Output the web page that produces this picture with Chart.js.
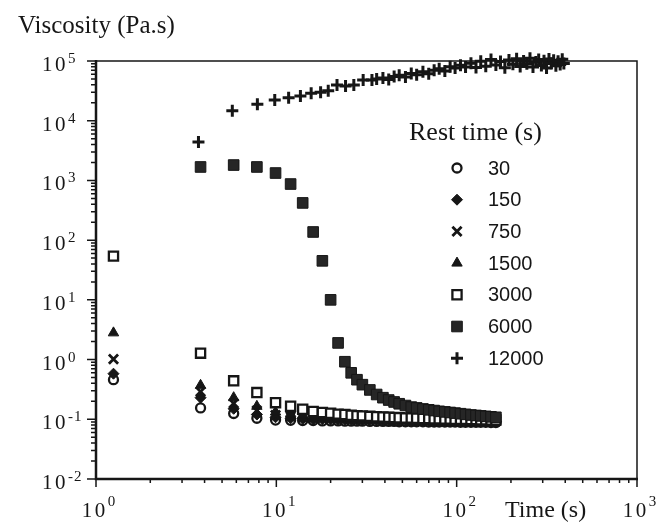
<!DOCTYPE html>
<html>
<head>
<meta charset="utf-8">
<title>Viscosity vs time</title>
<script src="https://cdn.jsdelivr.net/npm/chart.js@4.4.1/dist/chart.umd.min.js"></script>
<style>
  html, body { margin: 0; padding: 0; background: #fff; }
  #chart { display: block; }
</style>
</head>
<body>
<canvas id="chart" width="659" height="523"></canvas>
<script>
// time (s) shared by rest times 30 ... 6000
const times = [1.25, 3.8, 5.8, 7.8, 9.9, 12, 14, 16, 18, 20, 22, 24, 26, 28, 30, 33, 36, 39, 42, 45,
    48, 52, 56, 60, 65, 70, 75, 80, 86, 92, 98, 105, 112, 120, 128, 136, 145, 155, 165];

// viscosity (Pa.s) per rest time
const rest30 = [0.46, 0.155, 0.125, 0.104, 0.097, 0.096, 0.095, 0.095, 0.094, 0.094, 0.094, 0.093, 0.093, 0.093, 0.093, 0.092, 0.092, 0.092, 0.092, 0.092,
    0.091, 0.091, 0.091, 0.091, 0.091, 0.09, 0.09, 0.09, 0.09, 0.09, 0.09, 0.089, 0.089, 0.089, 0.089, 0.089, 0.089, 0.088, 0.088];
const rest150 = [0.58, 0.23, 0.15, 0.12, 0.108, 0.104, 0.102, 0.1, 0.1, 0.099, 0.098, 0.098, 0.097, 0.097, 0.097, 0.096, 0.096, 0.096, 0.095, 0.095,
    0.095, 0.095, 0.094, 0.094, 0.094, 0.094, 0.093, 0.093, 0.093, 0.093, 0.093, 0.092, 0.092, 0.092, 0.092, 0.092, 0.091, 0.091, 0.091];
const rest750 = [1.02, 0.29, 0.185, 0.14, 0.118, 0.112, 0.108, 0.106, 0.104, 0.103, 0.102, 0.101, 0.101, 0.1, 0.1, 0.099, 0.099, 0.099, 0.098, 0.098,
    0.098, 0.097, 0.097, 0.097, 0.097, 0.096, 0.096, 0.096, 0.096, 0.095, 0.095, 0.095, 0.095, 0.094, 0.094, 0.094, 0.094, 0.093, 0.093];
const rest1500 = [2.8, 0.37, 0.23, 0.165, 0.132, 0.124, 0.118, 0.114, 0.11, 0.108, 0.107, 0.106, 0.105, 0.105, 0.104, 0.103, 0.103, 0.102, 0.102, 0.101,
    0.101, 0.1, 0.1, 0.1, 0.099, 0.099, 0.099, 0.098, 0.098, 0.098, 0.097, 0.097, 0.097, 0.096, 0.096, 0.096, 0.095, 0.095, 0.095];
const rest3000 = [54, 1.28, 0.44, 0.28, 0.19, 0.165, 0.147, 0.135, 0.13, 0.126, 0.122, 0.12, 0.117, 0.115, 0.114, 0.112, 0.11, 0.109, 0.108, 0.107,
    0.106, 0.105, 0.105, 0.104, 0.103, 0.103, 0.102, 0.102, 0.101, 0.101, 0.1, 0.1, 0.1, 0.099, 0.099, 0.098, 0.098, 0.097, 0.097];
const rest6000 = [null, 1680, 1810, 1680, 1330, 870, 420, 137, 45, 10, 1.9, 0.92, 0.6, 0.46, 0.38, 0.31, 0.26, 0.23, 0.21, 0.195,
    0.182, 0.17, 0.16, 0.155, 0.149, 0.144, 0.14, 0.136, 0.133, 0.13, 0.127, 0.124, 0.121, 0.118, 0.116, 0.114, 0.112, 0.11, 0.108];

// the 12000 s run was measured for longer
const times12000 = [3.7, 5.7, 7.85, 9.8, 11.7, 13.6, 15.6, 17.6, 19.4, 21.7, 24.2, 26.9, 30.3, 33.9, 36, 39, 42, 45, 48, 52,
    56, 60, 65, 70, 75, 80, 86, 92, 98, 105, 112, 120, 128, 136, 145, 155, 165, 175, 185, 195,
    205, 215, 225, 235, 245, 255, 265, 275, 285, 295, 305, 315, 325, 335, 345, 355, 365, 375, 385, 393];
const rest12000 = [4400, 14700, 18800, 22200, 24300, 26000, 28800, 29900, 31800, 39600, 38000, 39800, 47900, 47900, 50000, 52000, 49000, 55000, 58000, 54000,
    62000, 59000, 66000, 61000, 70000, 74000, 68000, 80000, 76000, 85000, 79000, 92000, 78000, 99000, 82000, 106000, 86000, 98000, 77000, 104000,
    88000, 109000, 81000, 100000, 90000, 111000, 79000, 96000, 106000, 84000, 101000, 76000, 108000, 92000, 103000, 83000, 99000, 87000, 107000, 91000];

const restLabels = ['30', '150', '750', '1500', '3000', '6000', '12000'];
const xTickExps = ['0', '1', '2', '3'];
const yTickExps = ['-2', '-1', '0', '1', '2', '3', '4', '5'];

const ink = '#161616';
const serif = '"Liberation Serif", "Times New Roman", serif';
const sansNarrow = '"Liberation Sans Narrow", "Liberation Sans", Arial, sans-serif';

function points(ts, vs) {
    const out = [];
    ts.forEach((t, i) => {
        if (vs[i] != null) out.push({ x: t, y: vs[i] });
    });
    return out;
}

const datasets = [
    { label: restLabels[0], data: points(times, rest30), pointStyle: 'circle', pointRadius: 4.5,
      pointBackgroundColor: '#fff', pointBorderColor: ink, pointBorderWidth: 2.3, order: 6 },
    { label: restLabels[1], data: points(times, rest150), pointStyle: 'rectRot', pointRadius: 5.5,
      pointBackgroundColor: ink, pointBorderColor: ink, pointBorderWidth: 1, order: 5 },
    { label: restLabels[2], data: points(times, rest750), pointStyle: 'crossRot', pointRadius: 6.5,
      pointBackgroundColor: ink, pointBorderColor: ink, pointBorderWidth: 2.8, order: 4 },
    { label: restLabels[3], data: points(times, rest1500), pointStyle: 'triangle', pointRadius: 6,
      pointBackgroundColor: ink, pointBorderColor: ink, pointBorderWidth: 1, order: 3 },
    { label: restLabels[4], data: points(times, rest3000), pointStyle: 'rect', pointRadius: 6.5,
      pointBackgroundColor: '#fff', pointBorderColor: ink, pointBorderWidth: 2.3, order: 1 },
    { label: restLabels[5], data: points(times, rest6000), pointStyle: 'rect', pointRadius: 7.5,
      pointBackgroundColor: '#262626', pointBorderColor: ink, pointBorderWidth: 1, order: 0 },
    { label: restLabels[6], data: points(times12000, rest12000), pointStyle: 'cross', pointRadius: 6,
      pointBackgroundColor: ink, pointBorderColor: ink, pointBorderWidth: 3, order: 2, clip: false }
];

// "10" with a raised exponent, like the printed axis
function drawPow(ctx, exp, x, yBase, rise, centered) {
    const big = '21px ' + serif;
    const small = '15px ' + serif;
    ctx.letterSpacing = '2.5px';
    ctx.font = big;
    const w10 = ctx.measureText('10').width;
    ctx.letterSpacing = '1px';
    ctx.font = small;
    const wExp = ctx.measureText(exp).width;
    const x0 = centered ? x - (w10 + wExp) / 2 : x;
    ctx.textAlign = 'left';
    ctx.textBaseline = 'alphabetic';
    ctx.letterSpacing = '2.5px';
    ctx.font = big;
    ctx.fillText('10', x0, yBase);
    ctx.letterSpacing = '1px';
    ctx.font = small;
    ctx.fillText(exp, x0 + w10, yBase - rise);
    ctx.letterSpacing = '0px';
}

const paperAxes = {
    id: 'paperAxes',
    beforeDraw(chart) {
        const ctx = chart.ctx;
        ctx.save();
        ctx.fillStyle = '#fff';
        ctx.fillRect(0, 0, chart.width, chart.height);
        ctx.restore();
    },
    beforeDatasetsDraw(chart) {
        const { ctx, chartArea: a, scales: { x, y } } = chart;
        ctx.save();
        ctx.strokeStyle = ink;

        // thin top and right frame
        ctx.lineWidth = 1.5;
        ctx.beginPath();
        ctx.moveTo(a.left, a.top);
        ctx.lineTo(a.right, a.top);
        ctx.lineTo(a.right, a.bottom);
        ctx.stroke();

        // heavy left and bottom axes
        ctx.lineWidth = 2.5;
        ctx.beginPath();
        ctx.moveTo(a.left, a.top - 1);
        ctx.lineTo(a.left, a.bottom);
        ctx.lineTo(a.right + 1, a.bottom);
        ctx.stroke();

        // log ticks, pointing outwards
        ctx.lineWidth = 1.5;
        ctx.beginPath();
        yTickExps.forEach(e => {
            for (let m = 1; m <= 9; m++) {
                const v = m * Math.pow(10, +e);
                if (v > y.max * 1.0001) break;
                const py = y.getPixelForValue(v);
                const len = m === 1 ? 9 : 5;
                ctx.moveTo(a.left - len, py);
                ctx.lineTo(a.left, py);
            }
        });
        xTickExps.forEach(e => {
            for (let m = 1; m <= 9; m++) {
                const v = m * Math.pow(10, +e);
                if (v > x.max * 1.0001) break;
                const px = x.getPixelForValue(v);
                const len = m === 1 ? 8 : 4;
                ctx.moveTo(px, a.bottom);
                ctx.lineTo(px, a.bottom + len);
            }
        });
        ctx.stroke();
        ctx.restore();
    },
    afterDraw(chart) {
        const { ctx, scales: { x, y } } = chart;
        ctx.save();
        ctx.fillStyle = ink;

        yTickExps.forEach(e => {
            const py = y.getPixelForValue(Math.pow(10, +e));
            drawPow(ctx, e, 42, py + 10, 8, false);
        });
        xTickExps.forEach(e => {
            const px = x.getPixelForValue(Math.pow(10, +e));
            drawPow(ctx, e, px + 3, 517, 11, true);
        });

        // axis titles
        ctx.textAlign = 'left';
        ctx.textBaseline = 'alphabetic';
        ctx.font = '25px ' + serif;
        ctx.fillText('Viscosity (Pa.s)', 18, 33);
        ctx.font = '24px ' + serif;
        ctx.fillText('Time (s)', 505, 517);

        // legend
        ctx.font = '26px ' + serif;
        ctx.fillText('Rest time (s)', 409, 140);
        ctx.font = '20px ' + sansNarrow;
        ctx.textBaseline = 'middle';
        chart.data.datasets.forEach((ds, i) => {
            const ly = 168 + i * 31.7;
            ctx.fillStyle = ds.pointBackgroundColor;
            ctx.strokeStyle = ds.pointBorderColor;
            ctx.lineWidth = ds.pointBorderWidth;
            Chart.helpers.drawPoint(ctx, {
                pointStyle: ds.pointStyle,
                radius: ds.pointRadius,
                rotation: 0,
                borderWidth: ds.pointBorderWidth
            }, 457, ly);
            ctx.fillStyle = ink;
            ctx.fillText(ds.label, 488, ly + 1);
        });
        ctx.restore();
    }
};

new Chart(document.getElementById('chart'), {
    type: 'scatter',
    data: { datasets: datasets },
    options: {
        responsive: false,
        animation: false,
        events: [],
        layout: { padding: { left: 96, top: 61, right: 22, bottom: 44 } },
        scales: {
            x: { type: 'logarithmic', min: 1, max: 1000, display: false },
            y: { type: 'logarithmic', min: 0.01, max: 100000, display: false }
        },
        plugins: {
            legend: { display: false },
            tooltip: { enabled: false }
        }
    },
    plugins: [paperAxes]
});
</script>
</body>
</html>
